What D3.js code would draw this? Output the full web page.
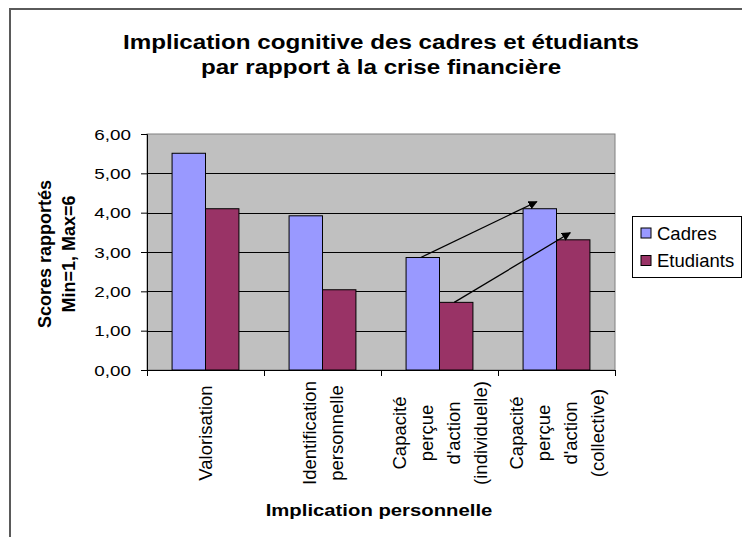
<!DOCTYPE html>
<html>
<head>
<meta charset="utf-8">
<script src="https://cdn.jsdelivr.net/npm/d3@7/dist/d3.min.js"></script>
<style>
body { margin: 0; background: #fff; }
text { font-family: "Liberation Sans", Arial, sans-serif; fill: #000; }
</style>
</head>
<body>
<script>
// chart data
var categories = ["Valorisation", "Identification personnelle", "Capacité perçue d'action (individuelle)", "Capacité perçue d'action (collective)"];
var categoryLines = [
  ["Valorisation"],
  ["Identification", "personnelle"],
  ["Capacité", "perçue", "d'action", "(individuelle)"],
  ["Capacité", "perçue", "d'action", "(collective)"]
];
var series = ["Cadres", "Etudiants"];
var cadres = [5.51, 3.92, 2.86, 4.10];
var etudiants = [4.10, 2.04, 1.72, 3.31];
var yTicks = [0, 1, 2, 3, 4, 5, 6];
var titleLines = ["Implication cognitive des cadres et étudiants", "par rapport à la crise financière"];
var yTitleLines = ["Scores rapportés", "Min=1, Max=6"];
var xTitle = "Implication personnelle";
// arrows from the "individuelle" bars to the "collective" bars
var arrows = [{series: "Cadres", from: 2, to: 3}, {series: "Etudiants", from: 2, to: 3}];

var colors = {Cadres: "#9999ff", Etudiants: "#993366"};
var values = {Cadres: cadres, Etudiants: etudiants};

var width = 742, height = 537;
var plot = {left: 147, right: 615, top: 134, bottom: 370};

var svg = d3.select("body").append("svg")
  .attr("width", width)
  .attr("height", height);

// outer chart frame (runs off the page on the right and bottom)
svg.append("path")
  .attr("d", "M10," + height + "V9H" + width)
  .attr("fill", "none")
  .attr("stroke", "#5a5a5a")
  .attr("stroke-width", 2);

var x0 = d3.scaleBand().domain(d3.range(categories.length))
  .range([plot.left, plot.right]).padding(0);
var x1 = d3.scaleBand().domain(series)
  .range([0, x0.bandwidth()]).paddingInner(0).paddingOuter(0.75);
var y = d3.scaleLinear().domain([0, 6]).range([plot.bottom, plot.top]);

// plot area
svg.append("rect")
  .attr("x", plot.left).attr("y", plot.top)
  .attr("width", plot.right - plot.left).attr("height", plot.bottom - plot.top)
  .attr("fill", "#c0c0c0")
  .attr("stroke", "#808080");

svg.append("g").selectAll("line")
  .data(yTicks.filter(function(d) { return d > 0 && d < 6; }))
  .enter().append("line")
  .attr("x1", plot.left).attr("x2", plot.right)
  .attr("y1", function(d) { return Math.round(y(d)) + 0.5; })
  .attr("y2", function(d) { return Math.round(y(d)) + 0.5; })
  .attr("stroke", "#000");

// bars
var groups = svg.append("g").selectAll("g")
  .data(categories)
  .enter().append("g")
  .attr("transform", function(d, i) { return "translate(" + x0(i) + ",0)"; });

groups.selectAll("rect")
  .data(function(d, i) { return series.map(function(s) { return {s: s, v: values[s][i]}; }); })
  .enter().append("rect")
  .attr("x", function(d) { return x1(d.s); })
  .attr("y", function(d) { return y(d.v); })
  .attr("width", x1.bandwidth())
  .attr("height", function(d) { return y(0) - y(d.v); })
  .attr("fill", function(d) { return colors[d.s]; })
  .attr("stroke", "#000")
  .attr("stroke-width", 1);

// y axis
var yAxis = svg.append("g")
  .attr("transform", "translate(" + plot.left + ",0)")
  .call(d3.axisLeft(y).tickValues(yTicks).tickSize(6)
    .tickFormat(function(d) { return d3.format(".2f")(d).replace(".", ","); }));
yAxis.select(".domain").attr("stroke", "#000");
yAxis.selectAll(".tick line").attr("stroke", "#000");
yAxis.selectAll("text")
  .attr("font-family", "Liberation Sans, Arial, sans-serif")
  .attr("font-size", 14.5)
  .attr("x", -16 / 1.3)
  .attr("dy", "0.36em")
  .attr("transform", "scale(1.3,1)");

// x axis: ticks on category boundaries
var xb = d3.scaleLinear().domain([0, categories.length]).range([plot.left, plot.right]);
var xAxis = svg.append("g")
  .attr("transform", "translate(0," + plot.bottom + ")")
  .call(d3.axisBottom(xb).ticks(categories.length).tickSize(6).tickSizeOuter(6).tickFormat(""));
xAxis.select(".domain").attr("stroke", "#000");
xAxis.selectAll(".tick line").attr("stroke", "#000");

// category labels, rotated, one column per line
var labelMid = 433;
groups.each(function(d, i) {
  var lines = categoryLines[i];
  var cx = x0.bandwidth() / 2;
  d3.select(this).selectAll("text.cat")
    .data(lines)
    .enter().append("text")
    .attr("class", "cat")
    .attr("font-size", 18.5)
    .attr("text-anchor", "middle")
    .attr("transform", function(t, j) {
      var lx = cx + (j - (lines.length - 1) / 2) * 27 + 6.5;
      return "translate(" + lx + "," + labelMid + ") rotate(-90)";
    })
    .text(function(t) { return t; });
});

// arrows
svg.append("defs").append("marker")
  .attr("id", "head")
  .attr("viewBox", "0 0 10 10")
  .attr("refX", 9).attr("refY", 5)
  .attr("markerWidth", 9).attr("markerHeight", 9)
  .attr("markerUnits", "userSpaceOnUse")
  .attr("orient", "auto")
  .append("path")
  .attr("d", "M0,0L10,5L0,10z")
  .attr("fill", "#000");

svg.append("g").selectAll("line")
  .data(arrows)
  .enter().append("line")
  .attr("x1", function(d) { return x0(d.from) + x1(d.series) + x1.bandwidth() / 2 - 2; })
  .attr("y1", function(d) { return y(values[d.series][d.from]); })
  .attr("x2", function(d) { return x0(d.to) + x1(d.series) + x1.bandwidth() / 2 - 3; })
  .attr("y2", function(d) { return y(values[d.series][d.to]) - 7; })
  .attr("stroke", "#000")
  .attr("stroke-width", 1.3)
  .attr("marker-end", "url(#head)");

// title
svg.append("g").selectAll("text")
  .data(titleLines)
  .enter().append("text")
  .attr("text-anchor", "middle")
  .attr("font-weight", "bold")
  .attr("font-size", 20)
  .attr("transform", function(d, i) { return "translate(381," + (49 + i * 25) + ") scale(1.21,1)"; })
  .text(function(d) { return d; });

// y title
svg.append("g").selectAll("text")
  .data(yTitleLines)
  .enter().append("text")
  .attr("text-anchor", "middle")
  .attr("font-weight", "bold")
  .attr("font-size", 18)
  .attr("transform", function(d, i) { return "translate(" + (51 + i * 24) + ",254) rotate(-90)"; })
  .text(function(d) { return d; });

// x title
svg.append("text")
  .attr("text-anchor", "middle")
  .attr("font-weight", "bold")
  .attr("font-size", 16)
  .attr("transform", "translate(379,516) scale(1.27,1)")
  .text(xTitle);

// legend
var legend = svg.append("g").attr("transform", "translate(632,216)");
legend.append("rect")
  .attr("x", 0.5).attr("y", 0.5)
  .attr("width", 109).attr("height", 61)
  .attr("fill", "#fff")
  .attr("stroke", "#000");
var items = legend.selectAll("g.item")
  .data(series)
  .enter().append("g")
  .attr("class", "item")
  .attr("transform", function(d, i) { return "translate(9," + (12 + i * 27.5) + ")"; });
items.append("rect")
  .attr("width", 10).attr("height", 10)
  .attr("fill", function(d) { return colors[d]; })
  .attr("stroke", "#000");
items.append("text")
  .attr("x", 16).attr("y", 11.5)
  .attr("font-size", 18.5)
  .text(function(d) { return d; });
</script>
</body>
</html>
